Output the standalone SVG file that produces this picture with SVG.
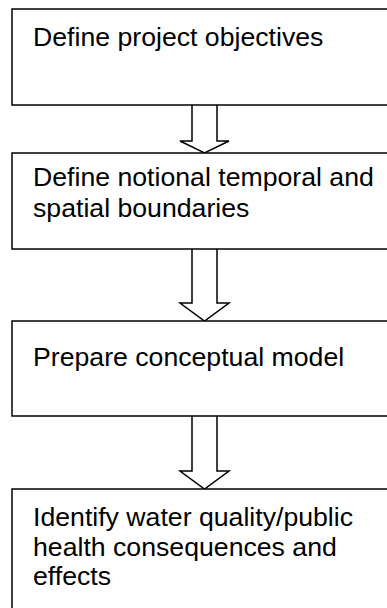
<svg xmlns="http://www.w3.org/2000/svg" width="387" height="608" viewBox="0 0 387 608">
<style>
.box{fill:#fff;stroke:#000;stroke-width:1.5}
.arr{fill:#fff;stroke:#000;stroke-width:1.5;stroke-linejoin:miter}
text{font-family:"Liberation Sans",Arial,sans-serif;font-size:26.67px;fill:#000}
</style>
<rect width="387" height="608" fill="#fff"/>
<g id="connectors">
<path class="arr" d="M192,105 V141 H180 L204.5,153 L229,141 H217 V105"/>
<path class="arr" d="M192,249 V303 H180 L204.5,321 L229,303 H217 V249"/>
<path class="arr" d="M192,416 V471 H180 L204.5,489 L229,471 H217 V416"/>
</g>
<g id="n1">
<rect class="box" x="12" y="9" width="400" height="96"/>
<text x="33" y="46">Define project objectives</text>
</g>
<g id="n2">
<rect class="box" x="12" y="153" width="400" height="96"/>
<text x="33" y="186">Define notional temporal and</text>
<text x="33" y="217">spatial boundaries</text>
</g>
<g id="n3">
<rect class="box" x="12" y="321" width="400" height="95"/>
<text x="33" y="366">Prepare conceptual model</text>
</g>
<g id="n4">
<rect class="box" x="12" y="489" width="400" height="140"/>
<text x="33" y="526">Identify water quality/public</text>
<text x="33" y="556">health consequences and</text>
<text x="33" y="585">effects</text>
</g>
</svg>
